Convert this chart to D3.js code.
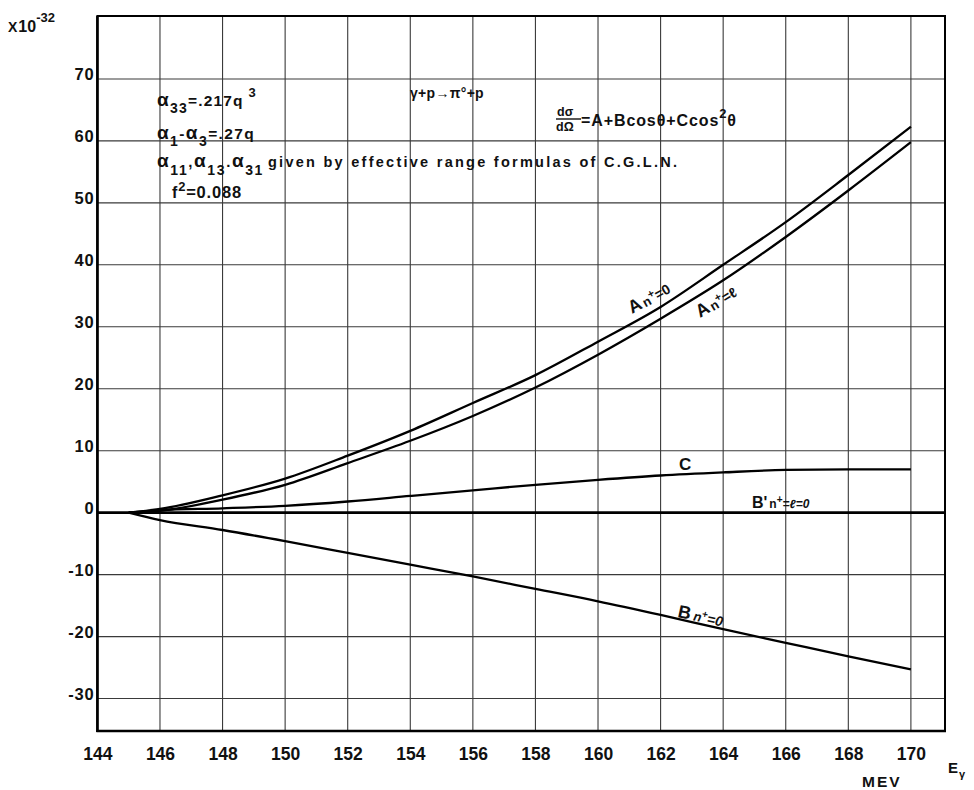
<!DOCTYPE html>
<html>
<head>
<meta charset="utf-8">
<script src="https://cdn.jsdelivr.net/npm/d3@7"></script>
<style>
  html, body { margin: 0; padding: 0; background: #fff; }
  svg { display: block; }
  text { font-family: "Liberation Sans", Arial, sans-serif; font-weight: bold; fill: #111; }
</style>
</head>
<body>
<svg id="chart" width="974" height="790"></svg>
<script>
// ---- data ----
const energies = [145, 146, 148, 150, 152, 154, 156, 158, 160, 162, 164, 166, 168, 170];
const aPiZero  = [0, 0.6, 2.8, 5.5, 9.2, 13.2, 17.7, 22.2, 27.6, 33.2, 40.0, 46.9, 54.5, 62.3];
const aPiL     = [0, 0.3, 2.1, 4.5, 8.0, 11.6, 15.6, 20.2, 25.5, 31.3, 37.5, 44.5, 52.0, 59.8];
const cValues  = [0, 0.4, 0.7, 1.1, 1.8, 2.7, 3.6, 4.5, 5.3, 6.0, 6.5, 6.9, 7.0, 7.0];
const bValues  = [0, -1.2, -2.8, -4.6, -6.5, -8.4, -10.3, -12.3, -14.3, -16.5, -18.8, -21.0, -23.2, -25.3];
const bPrimeE  = [144, 171.1];
const bPrimeV  = [0, 0];
const xTicks = [144, 146, 148, 150, 152, 154, 156, 158, 160, 162, 164, 166, 168, 170];
const yTicks = [-30, -20, -10, 0, 10, 20, 30, 40, 50, 60, 70];

(function () {
// ---- layout ----
const svg = d3.select("#chart");
const pLeft = 97.4, pRight = 945, pTop = 16, pBottom = 731;
const x = d3.scaleLinear().domain([144, 171.09]).range([pLeft, pRight]);
const y = d3.scaleLinear().domain([-35.24, 80.16]).range([pBottom, pTop]);

// grid
const grid = svg.append("g");
grid.selectAll("line.v").data(xTicks.filter(d => d > 144)).join("line")
  .attr("x1", d => x(d)).attr("x2", d => x(d)).attr("y1", pTop).attr("y2", pBottom)
  .attr("stroke", "#3a3a3a").attr("stroke-width", 1.1);
grid.selectAll("line.h").data(yTicks).join("line")
  .attr("x1", pLeft).attr("x2", pRight).attr("y1", d => y(d)).attr("y2", d => y(d))
  .attr("stroke", "#3a3a3a").attr("stroke-width", 1.1);

// frame
svg.append("rect").attr("x", pLeft).attr("y", pTop).attr("width", pRight - pLeft).attr("height", pBottom - pTop)
  .attr("fill", "none").attr("stroke", "#000").attr("stroke-width", 2);
svg.append("line").attr("x1", pLeft).attr("x2", pLeft).attr("y1", pTop).attr("y2", pBottom + 1)
  .attr("stroke", "#000").attr("stroke-width", 2.6);
svg.append("line").attr("x1", pLeft - 1).attr("x2", pRight + 1).attr("y1", pBottom).attr("y2", pBottom)
  .attr("stroke", "#000").attr("stroke-width", 2.6);

// axes (tick labels only)
const xAxis = d3.axisBottom(x).tickValues(xTicks).tickSize(0).tickPadding(0).tickFormat(d3.format("d"));
const gx = svg.append("g").attr("transform", `translate(0,${pBottom})`).call(xAxis);
gx.select(".domain").remove();
gx.selectAll("text").attr("dy", null).attr("y", 29).attr("font-size", 17.5)
  .style("font-family", '"Liberation Sans", Arial, sans-serif').style("font-weight", "bold").attr("fill", "#111");

const yAxis = d3.axisLeft(y).tickValues(yTicks).tickSize(0).tickPadding(0).tickFormat(d => d < 0 ? "-" + Math.abs(d) : d);
const gy = svg.append("g").attr("transform", `translate(${pLeft - 3},0)`).call(yAxis);
gy.select(".domain").remove();
gy.selectAll("text").attr("dy", null).attr("y", 1).attr("font-size", 16.5).attr("letter-spacing", 0.8)
  .style("font-family", '"Liberation Sans", Arial, sans-serif').style("font-weight", "bold").attr("fill", "#111");

// curves
const line = d3.line().x(d => x(d[0])).y(d => y(d[1])).curve(d3.curveMonotoneX);
const series = [aPiZero, aPiL, cValues, bValues];
svg.append("g").selectAll("path").data(series).join("path")
  .attr("d", vals => line(energies.map((e, i) => [e, vals[i]])))
  .attr("fill", "none").attr("stroke", "#000").attr("stroke-width", 2.3);
svg.append("path").attr("d", line(bPrimeE.map((e, i) => [e, bPrimeV[i]])))
  .attr("fill", "none").attr("stroke", "#000").attr("stroke-width", 2.6);

// rich text helper
function rich(px, py, parts, size, opts = {}) {
  const t = svg.append("text").attr("x", px).attr("y", py).attr("font-size", size);
  if (opts.ls != null) t.attr("letter-spacing", opts.ls);
  if (opts.rot) t.attr("transform", `rotate(${opts.rot},${px},${py})`);
  if (opts.anchor) t.attr("text-anchor", opts.anchor);
  let cur = 0;
  parts.forEach(p => {
    const off = p.o || 0;
    const s = t.append("tspan").attr("dy", off - cur).attr("font-size", p.s || size).text(p.t);
    if (p.it) s.attr("font-style", "italic");
    if (p.dx) s.attr("dx", p.dx);
    cur = off;
  });
  return t;
}

// multiplier
rich(8, 32, [{t: "X", s: 14}, {t: "10", dx: 1}, {t: "-32", o: -10, s: 13}], 16);

// annotations
rich(157, 106, [{t: "α", s: 19}, {t: "33", o: 7, s: 14}, {t: "=.217q"}, {t: " 3", o: -9, s: 13}], 15.5, {ls: 1.2});
rich(157, 139, [{t: "α", s: 19}, {t: "1", o: 7, s: 14}, {t: "-"}, {t: "α", s: 19}, {t: "3", o: 7, s: 14}, {t: "=.27q"}], 15.5, {ls: 1.4});
rich(157, 167, [{t: "α", s: 19}, {t: "11", o: 8, s: 14}, {t: ",", o: 0}, {t: "α", s: 19}, {t: "13", o: 8, s: 14}, {t: ".", o: 0}, {t: "α", s: 19}, {t: "31", o: 8, s: 14}], 15, {ls: 1.6});
svg.append("text").attr("x", 268).attr("y", 167).attr("font-size", 14.5)
  .attr("textLength", 409).attr("lengthAdjust", "spacing")
  .text("given by effective  range  formulas of C.G.L.N.");
rich(172, 198, [{t: "f", s: 16}, {t: "2", o: -7, s: 13}, {t: "=0.088", o: 0}], 16.5, {ls: 0.8});

rich(410, 98, [{t: "γ+p→π°+p"}], 14, {ls: 0.3});

// dσ/dΩ fraction
rich(557, 116, [{t: "dσ"}], 12.5);
svg.append("line").attr("x1", 556).attr("x2", 581).attr("y1", 119).attr("y2", 119).attr("stroke", "#111").attr("stroke-width", 1.4);
rich(556, 131, [{t: "dΩ"}], 12.5);
rich(581, 126, [{t: "=A+Bcosθ+Ccos"}, {t: "2", o: -8, s: 13}, {t: "θ", o: 0}], 16, {ls: 0.9});

// curve labels
rich(632, 314, [{t: "A", s: 18}, {t: "n", s: 13, o: 1, dx: 2}, {t: "+", s: 11, o: -5}, {t: "=0", s: 14, o: 0}], 15, {rot: -29});
rich(700, 318, [{t: "A", s: 18}, {t: "n", s: 13, o: 1, dx: 2}, {t: "+", s: 11, o: -5}, {t: "=ℓ", s: 14, o: 0}], 15, {rot: -31});
rich(679, 470, [{t: "C"}], 17);
rich(752, 508, [{t: "B'", s: 16}, {t: "n", s: 12, dx: 2}, {t: "+", s: 10, o: -5}, {t: "=ℓ=0", s: 12, o: 0, it: true}], 15);
rich(677, 617, [{t: "B", s: 18}, {t: "n", s: 13, dx: 3, it: true}, {t: "+", s: 10, o: -5}, {t: "=0", s: 14, o: 0, it: true}], 15, {rot: 12});

// axis titles
rich(862, 787, [{t: "MEV"}], 15.5, {ls: 2});
rich(948, 773, [{t: "E", s: 15}, {t: "γ", s: 11, o: 5, dx: 1}], 15);
})();
</script>
</body>
</html>
